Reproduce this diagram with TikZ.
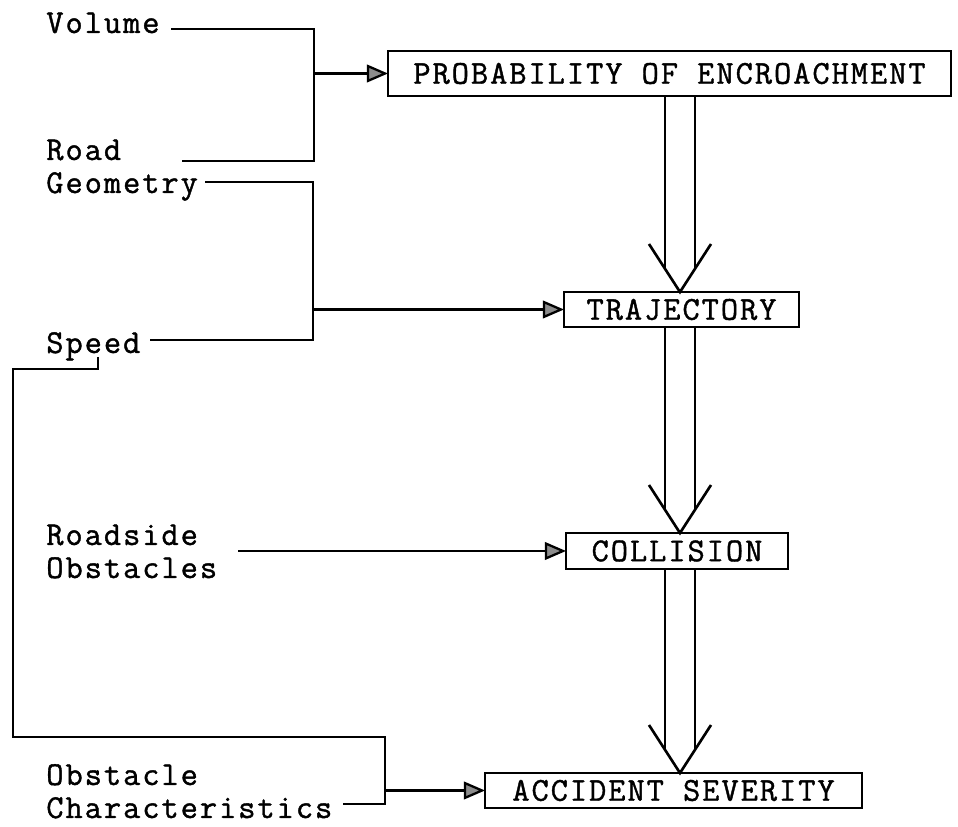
\documentclass[tikz,border=0pt]{standalone}
\usepackage{fontspec}
\newfontfamily\scanfont{Latin Modern Mono}[LetterSpace=6,FakeBold=1.2]
\usetikzlibrary{arrows.meta,calc,positioning}
\tikzset{
  stage/.style={
    draw=black,
    line width=1.4pt,
    inner sep=0pt,
    outer sep=0pt,
    font=\scanfont\fontsize{19}{19}\selectfont
  },
  boxsize/.style 2 args={
    minimum width=#1*0.02cm,
    minimum height=#2*0.02cm
  },
  factor/.style={
    anchor=base west,
    align=left,
    inner sep=0pt,
    font=\scanfont\fontsize{19}{18.8}\selectfont
  },
  feed/.style={
    line width=1.3pt
  },
  feedarrow/.style={
    feed,
    -{Triangle[length=12pt,width=10pt,fill=black!45]}
  },
  shaft/.style={
    line width=1.5pt
  }
}
\newcommand{\stagearrow}[2]{%
  \draw[shaft] ($(#1.south -| col)+(-15,0)$) -- ($(#2.north -| col)+(-15,-23)$);
  \draw[shaft] ($(#1.south -| col)+(15,0)$) -- ($(#2.north -| col)+(15,-23)$);
  \draw[shaft]
    ($(#2.north -| col)+(-31,-48)$) -- (#2.north -| col) -- ($(#2.north -| col)+(31,-48)$);
}
\begin{document}
\begin{tikzpicture}[x=0.02cm,y=-0.02cm]
  \useasboundingbox (0,0) rectangle (958,827);

  % --- factors on the left ---
  \node[factor] (vol) at (46,33) {Volume};
  \node[factor] (road) at (46,193) {Road\\Geometry};
  \node[factor] (spd) at (46,353) {Speed};
  \node[factor] (roadside) at (46,578) {Roadside\\Obstacles};
  \node[factor] (obst) at (46,818) {Obstacle\\Characteristics};

  % --- stages ---
  \node[stage, boxsize={563}{45}] (encroach) at (669.5,73.5) {PROBABILITY OF ENCROACHMENT};
  \node[stage, boxsize={235}{35}] (traj) at (681.5,309.5) {TRAJECTORY};
  \node[stage, boxsize={222}{36}] (coll) at (677,551) {COLLISION};
  \node[stage, boxsize={377}{35}] (sev) at (673.5,790.5) {ACCIDENT SEVERITY};

  % --- line ends and buses ---
  \coordinate (col) at (680,0);
  \coordinate (vol-end) at (171,29);
  \coordinate (road-end) at (182,161);
  \coordinate (geo-end) at (205,182);
  \coordinate (spd-end) at (150,340);
  \coordinate (spd-tail) at (98,357);
  \coordinate (side-end) at (238,550);
  \coordinate (char-end) at (343,804);
  \coordinate (bus1) at (314,0);
  \coordinate (bus2) at (313,0);
  \coordinate (bus3) at (385,0);
  \coordinate (rail-top) at (13,369);
  \coordinate (rail-bot) at (13,737);

  % --- feeds ---
  \draw[feed] (vol-end) -| (bus1 |- road-end) -- (road-end);
  \draw[feedarrow] (bus1 |- encroach.west) -- (encroach.west);
  \draw[feed] (geo-end) -| (bus2 |- spd-end) -- (spd-end);
  \draw[feedarrow] (bus2 |- traj.west) -- (traj.west);
  \draw[feedarrow] (coll.west -| side-end) -- (coll.west);
  \draw[feed] (spd-tail) |- (rail-top) -- (rail-bot) -| (bus3 |- char-end) -- (char-end);
  \draw[feedarrow] (bus3 |- sev.west) -- (sev.west);

  % --- main chain ---
  \stagearrow{encroach}{traj}
  \stagearrow{traj}{coll}
  \stagearrow{coll}{sev}
\end{tikzpicture}
\end{document}
